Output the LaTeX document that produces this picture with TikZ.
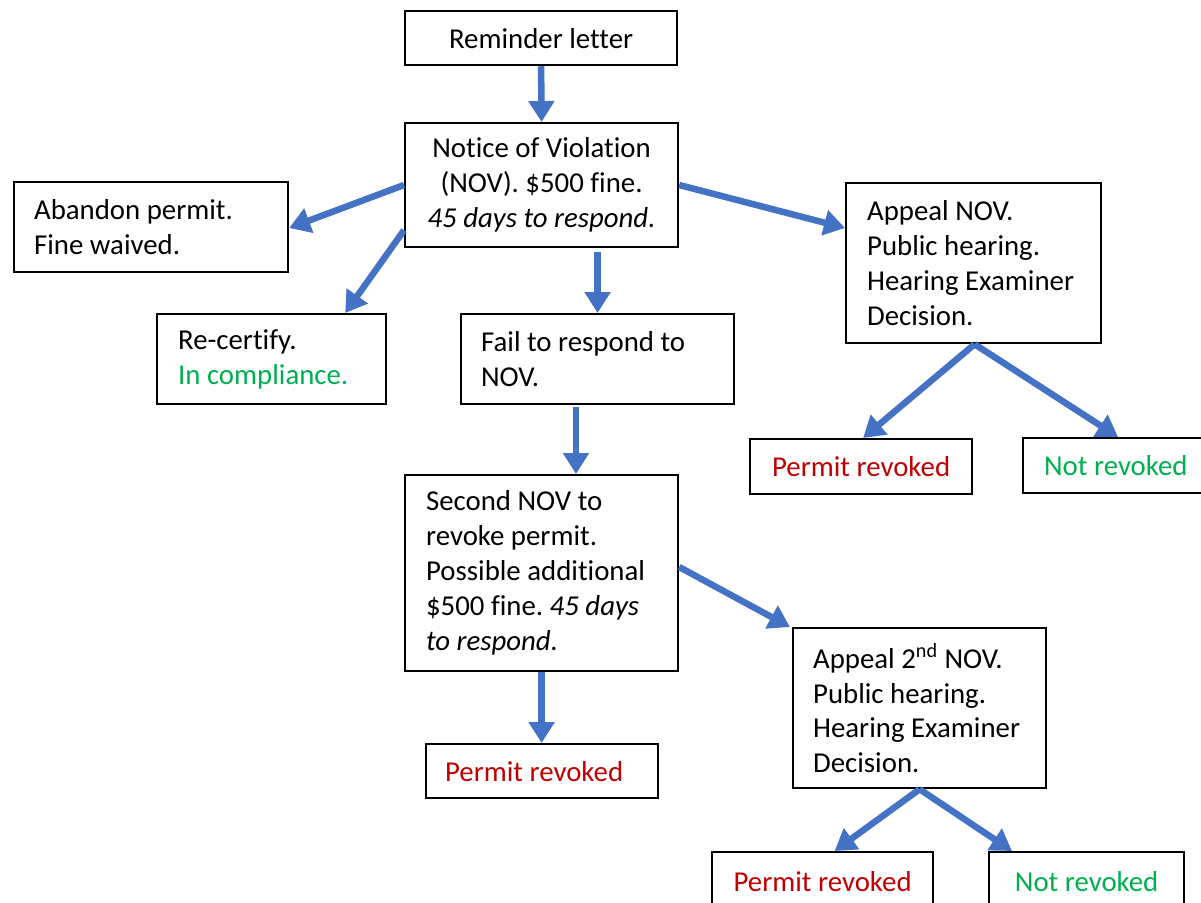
\documentclass[tikz,border=0pt]{standalone}
\usepackage{fontspec}
\setmainfont{Carlito}[Ligatures={NoCommon}]
\usetikzlibrary{arrows.meta,calc}
\definecolor{arrblue}{HTML}{4472C4}
\definecolor{wred}{HTML}{C00000}
\definecolor{wgreen}{HTML}{00B050}
\frenchspacing
\begin{document}
\begin{tikzpicture}[x=0.02cm,y=-0.02cm,
  box/.style={draw=black,line width=0.045cm,rectangle,anchor=north west,
    font=\fontsize{16.4}{19.9}\selectfont\frenchspacing,inner ysep=0pt},
  lbox/.style={box,align=flush left},
  cbox/.style={box,align=center},
  arr/.style={draw=arrblue,line width=0.13cm,-{Triangle[length=0.42cm,width=0.5cm]}}]
\clip (0,0) rectangle (1201,903);
\fill[white] (0,0) rectangle (1201,903);
% nodes
\node[cbox,minimum width=5.44cm,minimum height=1.08cm] (rem) at (404,10) {Reminder letter};
\node[cbox,minimum width=5.46cm,minimum height=2.48cm] (nov) at (404,122)
  {Notice of Violation\\(NOV). \$500 fine.\\\textit{45 days to respond.}};
\node[lbox,minimum width=5.48cm,minimum height=1.8cm,inner xsep=0.4cm,text width=4.68cm] (aband) at (13,181)
  {Abandon permit.\\Fine waived.};
\node[lbox,minimum width=4.58cm,minimum height=1.8cm,inner xsep=0.42cm,text width=3.74cm] (recert) at (156,313)
  {Re-certify.\\\textcolor{wgreen}{In compliance.}};
\node[lbox,minimum width=5.46cm,minimum height=1.8cm,inner xsep=0.4cm,text width=4.66cm] (fail) at (460,313)
  {Fail to respond to\\NOV.};
\node[lbox,minimum width=5.1cm,minimum height=3.2cm,inner xsep=0.42cm,text width=4.26cm] (appeal) at (845,182)
  {Appeal NOV.\\Public hearing.\\Hearing Examiner\\Decision.};
\node[cbox,minimum width=4.44cm,minimum height=1.1cm,text=wred] (pra) at (749,438) {Permit revoked};
\node[lbox,minimum width=3.8cm,minimum height=1.1cm,inner xsep=0.42cm,text width=2.96cm,text=wgreen] (nra) at (1022,437) {Not revoked};
\node[lbox,minimum width=5.46cm,minimum height=3.92cm,inner xsep=0.42cm,text width=4.62cm] (second) at (404,474)
  {Second NOV to\\revoke permit.\\Possible additional\\\$500 fine. \textit{45 days}\\\textit{to respond.}};
\node[lbox,minimum width=4.64cm,minimum height=1.08cm,inner xsep=0.38cm,text width=3.88cm,text=wred] (prb) at (425,743) {Permit revoked};
\node[lbox,minimum width=5.06cm,minimum height=3.2cm,inner xsep=0.4cm,text width=4.26cm] (appealb) at (792,627)
  {Appeal 2\textsuperscript{nd} NOV.\\Public hearing.\\Hearing Examiner\\Decision.};
\node[cbox,minimum width=4.42cm,minimum height=1.16cm,text=wred] (prc) at (711,851) {Permit revoked};
\node[cbox,minimum width=3.9cm,minimum height=1.16cm,text=wgreen] (nrc) at (988,851) {Not revoked};
% arrows
\draw[arr] (rem.south) -- (nov.north);
\draw[arr] ($(nov.north west)+(0,63)$) -- ($(aband.north east)+(0,47)$);
\draw[arr] ($(nov.south west)+(0,-18)$) -- ($(recert.north east)+(-42,0)$);
\draw[arr] ($(fail.north |- nov.south)+(0,4)$) -- (fail.north);
\draw[arr] ($(nov.north east)+(0,63)$) -- ($(appeal.north west)+(0,46)$);
\draw[arr] ($(appeal.south)+(1,0)$) -- ($(pra.north)+(2,0)$);
\draw[arr] ($(appeal.south)+(1,0)$) -- (nra.north);
\draw[arr] ($(fail.south west)+(116,2)$) -- ($(fail.south west |- second.north)+(116,0)$);
\draw[arr] ($(second.north east)+(0,93)$) -- ($(appealb.north west)+(-2,0)$);
\draw[arr] (second.south) -- (second.south |- prb.north);
\draw[arr] (appealb.south) -- ($(prc.north)+(12,0)$);
\draw[arr] (appealb.south) -- ($(nrc.north west)+(24,0)$);
\end{tikzpicture}
\end{document}
